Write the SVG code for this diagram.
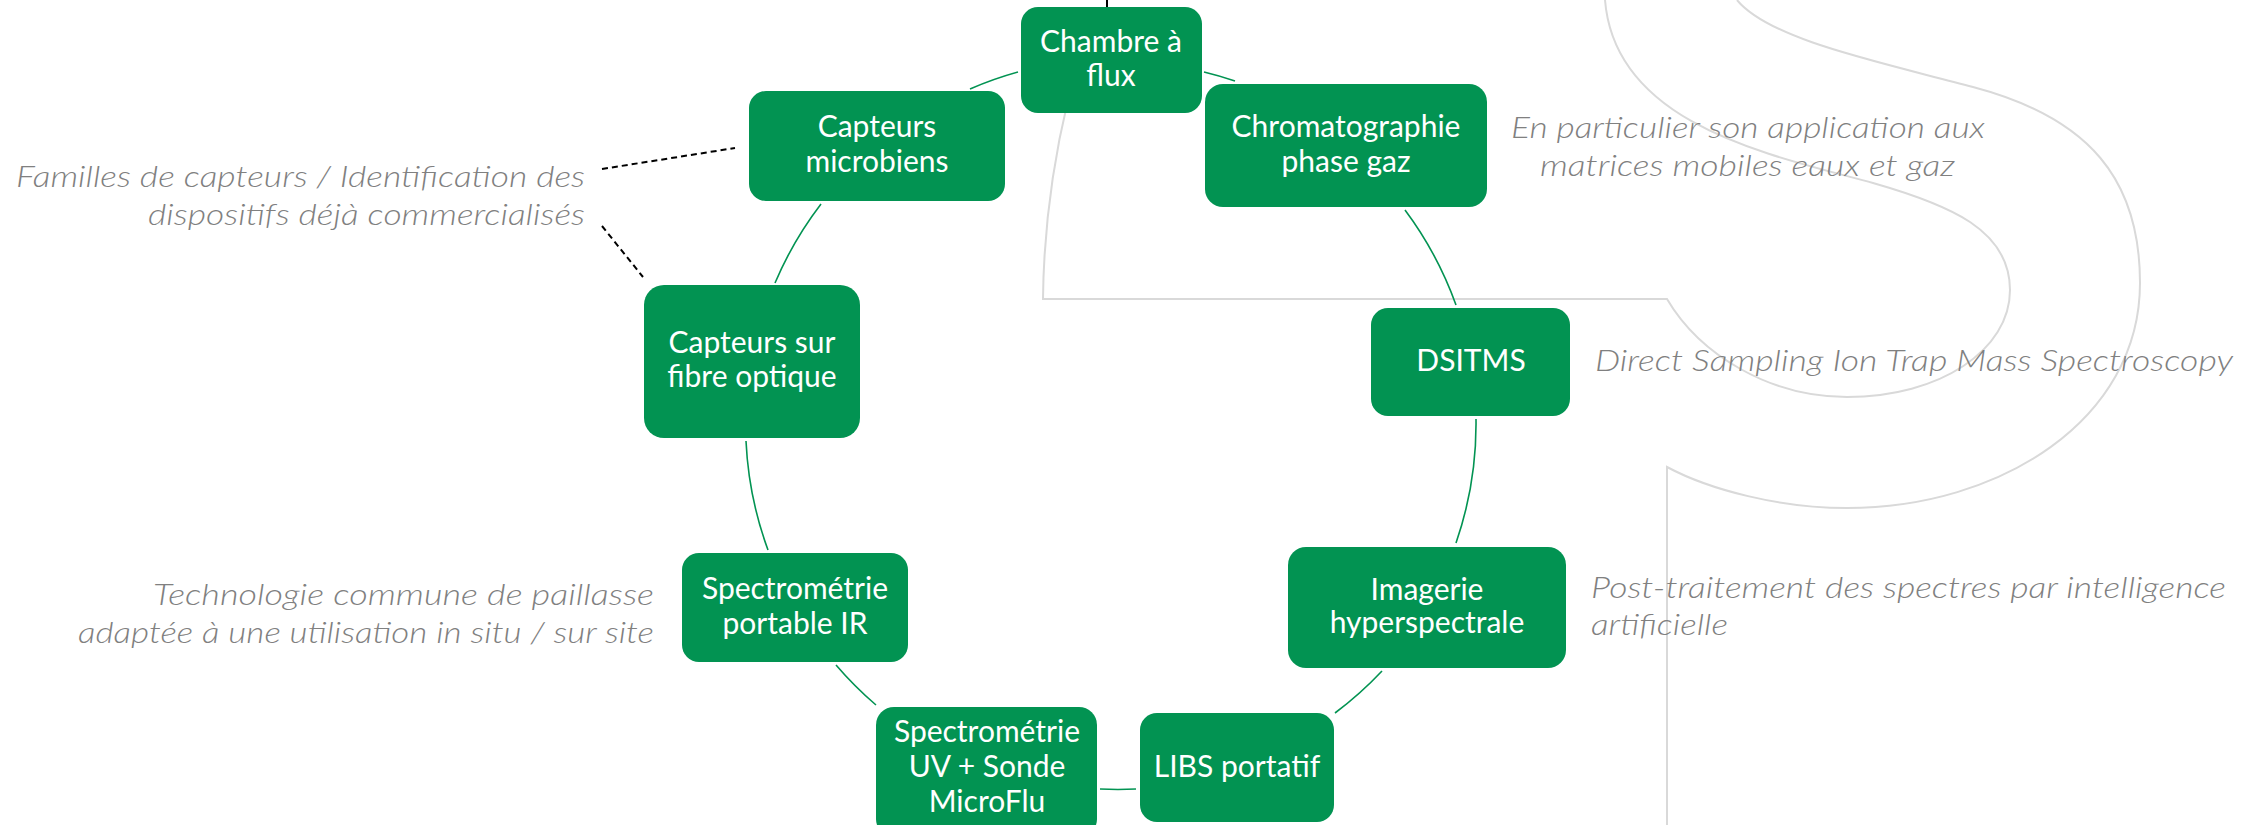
<svg xmlns="http://www.w3.org/2000/svg" width="2257" height="825" viewBox="0 0 2257 825">
<style>
.bg{fill:none;stroke:#d9d9d9;stroke-width:2}
.node rect{fill:#029352}
.node text{fill:#ffffff;font-family:Lato,"Liberation Sans",sans-serif;font-size:30px;text-anchor:middle}
.conn{fill:none;stroke:#029352;stroke-width:1.6}
.dash{fill:none;stroke:#000;stroke-width:2;stroke-dasharray:6 4}
.note{fill:#808080;font-family:Lato,"Liberation Sans",sans-serif;font-style:italic;font-weight:300;font-size:30px}
</style>
<rect width="2257" height="825" fill="#ffffff"/>
<g id="background-shape">
<path class="bg" d="M1068,100 Q1044,200 1043,299 L1667,299 C1700,355 1770,397 1847,397 C1940,397 2010,350 2010,290 C2010,230 1950,205 1873,183 C1770,155 1615,125 1605,0"/>
<path class="bg" d="M1737,0 C1770,40 1880,62 1973,87 C2090,118 2140,180 2140,283 C2140,420 2000,508 1847,508 C1780,508 1710,490 1667,467 L1667,825"/>
<line x1="1107" y1="0" x2="1107" y2="8" stroke="#000" stroke-width="2"/>
</g>
<g id="connectors">
<path class="conn" d="M970,89 A365,365 0 0 1 1018,72"/>
<path class="conn" d="M1204,72 A365,365 0 0 1 1235,81"/>
<path class="conn" d="M1405,210 A365,365 0 0 1 1456,305"/>
<path class="conn" d="M1476,419 A365,365 0 0 1 1456,543"/>
<path class="conn" d="M1382,671 A365,365 0 0 1 1335,713"/>
<path class="conn" d="M1136,789 A365,365 0 0 1 1100,789"/>
<path class="conn" d="M876,705 A365,365 0 0 1 836,665"/>
<path class="conn" d="M768,550 A365,365 0 0 1 746,441"/>
<path class="conn" d="M775,283 A365,365 0 0 1 821,204"/>
<path class="dash" d="M602,169 L735,148"/>
<path class="dash" d="M602,226 L643,277"/>
</g>
<g id="node-chambre" class="node">
<rect x="1021" y="7" width="181" height="106" rx="17"/>
<text x="1111" y="52">Chambre à</text>
<text x="1111" y="86">flux</text>
</g>
<g id="node-chromatographie" class="node">
<rect x="1205" y="84" width="282" height="123" rx="18"/>
<text x="1346" y="137">Chromatographie</text>
<text x="1346" y="172">phase gaz</text>
</g>
<g id="node-microbiens" class="node">
<rect x="749" y="91" width="256" height="110" rx="17"/>
<text x="877" y="137">Capteurs</text>
<text x="877" y="172">microbiens</text>
</g>
<g id="node-fibre" class="node">
<rect x="644" y="285" width="216" height="153" rx="20"/>
<text x="752" y="353">Capteurs sur</text>
<text x="752" y="387">fibre optique</text>
</g>
<g id="node-dsitms" class="node">
<rect x="1371" y="308" width="199" height="108" rx="17"/>
<text x="1471" y="371">DSITMS</text>
</g>
<g id="node-imagerie" class="node">
<rect x="1288" y="547" width="278" height="121" rx="18"/>
<text x="1427" y="600">Imagerie</text>
<text x="1427" y="633">hyperspectrale</text>
</g>
<g id="node-libs" class="node">
<rect x="1140" y="713" width="194" height="109" rx="17"/>
<text x="1237" y="777">LIBS portatif</text>
</g>
<g id="node-spectro-uv" class="node">
<rect x="876" y="707" width="221" height="130" rx="18"/>
<text x="987" y="742">Spectrométrie</text>
<text x="987" y="777">UV + Sonde</text>
<text x="987" y="812">MicroFlu</text>
</g>
<g id="node-spectro-ir" class="node">
<rect x="682" y="553" width="226" height="109" rx="17"/>
<text x="795" y="599">Spectrométrie</text>
<text x="795" y="634">portable IR</text>
</g>
<g id="notes">
<text class="note" text-anchor="end" x="585" y="187" textLength="569" lengthAdjust="spacingAndGlyphs">Familles de capteurs / Identification des</text>
<text class="note" text-anchor="end" x="585" y="225" textLength="437" lengthAdjust="spacingAndGlyphs">dispositifs déjà commercialisés</text>
<text class="note" text-anchor="end" x="654" y="605" textLength="501" lengthAdjust="spacingAndGlyphs">Technologie commune de paillasse</text>
<text class="note" text-anchor="end" x="654" y="643" textLength="576" lengthAdjust="spacingAndGlyphs">adaptée à une utilisation in situ / sur site</text>
<text class="note" x="1511" y="138" textLength="474" lengthAdjust="spacingAndGlyphs">En particulier son application aux</text>
<text class="note" x="1540" y="176" textLength="415" lengthAdjust="spacingAndGlyphs">matrices mobiles eaux et gaz</text>
<text class="note" x="1595" y="371" textLength="638" lengthAdjust="spacingAndGlyphs">Direct Sampling Ion Trap Mass Spectroscopy</text>
<text class="note" x="1591" y="598" textLength="635" lengthAdjust="spacingAndGlyphs">Post-traitement des spectres par intelligence</text>
<text class="note" x="1591" y="635" textLength="137" lengthAdjust="spacingAndGlyphs">artificielle</text>
</g>
</svg>
